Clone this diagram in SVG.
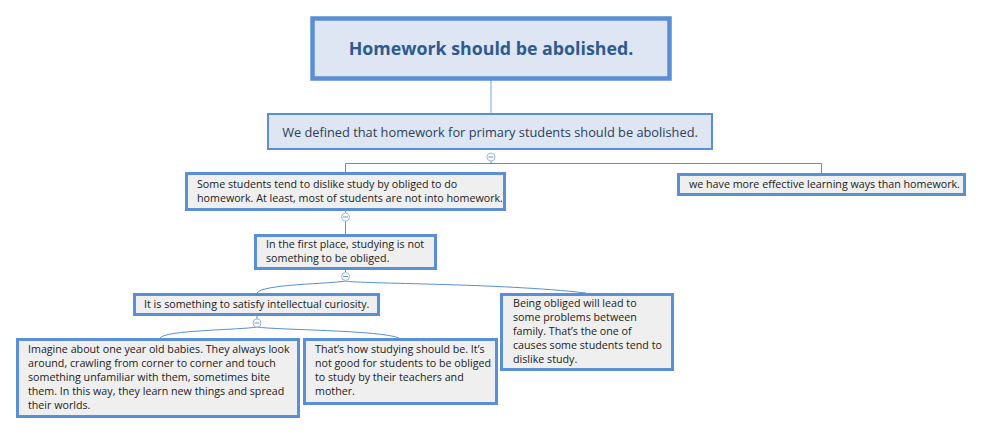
<svg xmlns="http://www.w3.org/2000/svg" width="982" height="435" viewBox="0 0 982 435">
<style>
.t{font-family:"Open Sans","Noto Sans","DejaVu Sans",sans-serif;font-size:10.7px;fill:#222}
.box{fill:#efefef;stroke:#5a8ed5;stroke-width:3}
.ln{fill:none;stroke:#5a8ed5;stroke-width:1}
.col circle{fill:#fff;stroke:#9bb8e3;stroke-width:1}
.col path{stroke:#6f93c8;stroke-width:1}
</style>
<rect width="982" height="435" fill="#fff"/>
<g id="connectors">
<line x1="491" y1="80" x2="491" y2="113" stroke="#a8c0e4" stroke-width="1.5"/>
<path class="ln" d="M491,161 V163.5 H345.5 V172 M491,163.5 H821.5 V173"/>
<path class="ln" d="M345.5,211 V213 M345.5,221 V234"/>
<path class="ln" d="M345.5,270 V272 M345.5,281 C330,284 262,284 257,293"/>
<path class="ln" d="M345.5,281 C360,284 500,283 586,293"/>
<path class="ln" d="M257,316 V319 M257,327 C240,330 165,330 160,338"/>
<path class="ln" d="M257,327 C275,330 380,330 399,338"/>
<g class="col">
<circle cx="491" cy="157" r="4"/><path d="M488.5,157 H493.5"/>
<circle cx="345.5" cy="217" r="4"/><path d="M343,217 H348"/>
<circle cx="345.5" cy="276.5" r="4"/><path d="M343,276.5 H348"/>
<circle cx="257" cy="323" r="4"/><path d="M254.5,323 H259.5"/>
</g>
</g>
<g id="root">
<rect x="312.5" y="18.5" width="357" height="60" fill="#dde6f2" stroke="#5a8ed5" stroke-width="4.5"/>
<text x="491" y="55" text-anchor="middle" font-family="'Open Sans','Noto Sans',sans-serif" font-size="17.8" font-weight="bold" fill="#2f5a8f">Homework should be abolished.</text>
</g>
<g id="n-defined">
<rect x="268" y="114" width="444" height="35" fill="#dde6f2" stroke="#5a8ed5" stroke-width="2"/>
<text x="490" y="137" text-anchor="middle" font-family="'Open Sans','Noto Sans',sans-serif" font-size="12.8" fill="#2e3d5a">We defined that homework for primary students should be abolished.</text>
</g>
<g id="n-dislike">
<rect class="box" x="186.5" y="173.5" width="318" height="36"/>
<text class="t" x="197" y="188">Some students tend to dislike study by obliged to do</text>
<text class="t" x="197" y="202">homework. At least, most of students are not into homework.</text>
</g>
<g id="n-effective">
<rect class="box" x="678.5" y="174.5" width="286" height="20"/>
<text class="t" x="689" y="188">we have more effective learning ways than homework.</text>
</g>
<g id="n-first">
<rect class="box" x="255.5" y="235.5" width="180" height="33"/>
<text class="t" x="266" y="248">In the first place, studying is not</text>
<text class="t" x="266" y="262">something to be obliged.</text>
</g>
<g id="n-curiosity">
<rect class="box" x="134.5" y="294.5" width="244" height="20"/>
<text class="t" x="144" y="308">It is something to satisfy intellectual curiosity.</text>
</g>
<g id="n-family">
<rect class="box" x="501.5" y="294.5" width="171" height="75"/>
<text class="t" x="513" y="307">Being obliged will lead to</text>
<text class="t" x="513" y="321">some problems between</text>
<text class="t" x="513" y="335">family. That’s the one of</text>
<text class="t" x="513" y="349">causes some students tend to</text>
<text class="t" x="513" y="363">dislike study.</text>
</g>
<g id="n-babies">
<rect class="box" x="17.5" y="339.5" width="281" height="77"/>
<text class="t" x="28" y="353">Imagine about one year old babies. They always look</text>
<text class="t" x="28" y="367">around, crawling from corner to corner and touch</text>
<text class="t" x="28" y="381">something unfamiliar with them, sometimes bite</text>
<text class="t" x="28" y="395">them. In this way, they learn new things and spread</text>
<text class="t" x="28" y="409">their worlds.</text>
</g>
<g id="n-how">
<rect class="box" x="304.5" y="339.5" width="192" height="64"/>
<text class="t" x="315" y="353">That’s how studying should be. It’s</text>
<text class="t" x="315" y="367">not good for students to be obliged</text>
<text class="t" x="315" y="381">to study by their teachers and</text>
<text class="t" x="315" y="395">mother.</text>
</g>
</svg>
